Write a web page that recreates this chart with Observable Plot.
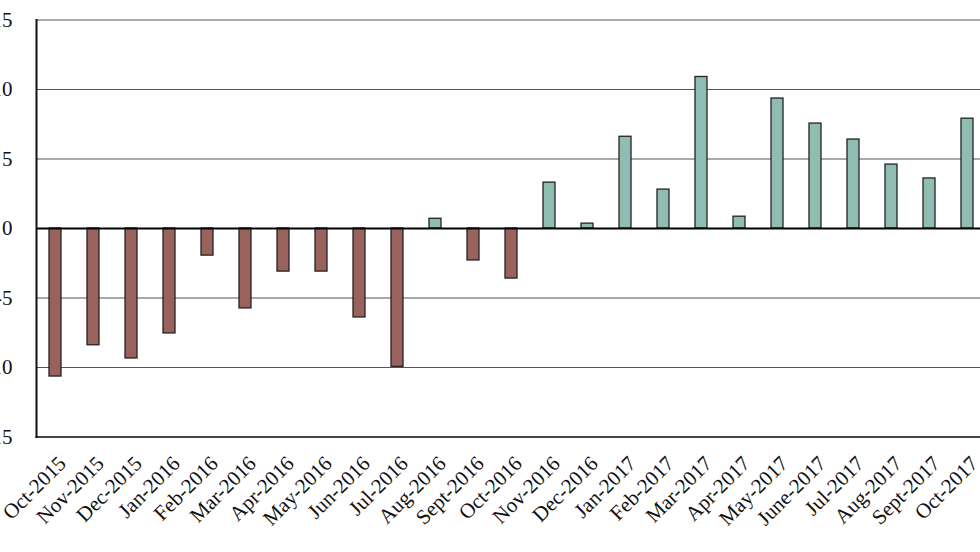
<!DOCTYPE html>
<html>
<head>
<meta charset="utf-8">
<script src="https://cdn.jsdelivr.net/npm/d3@7"></script>
<script src="https://cdn.jsdelivr.net/npm/@observablehq/plot@0.6"></script>
<style>
  html, body { margin: 0; padding: 0; background: #fff; overflow: hidden; width: 980px; height: 552px; }
  #chart { width: 980px; height: 552px; overflow: hidden; }
  #chart svg { display: block; margin-left: -20px; max-width: none !important; width: 1020px !important; height: 552px !important; }
</style>
</head>
<body>
<div id="chart"></div>
<script>
const months = ["Oct-2015","Nov-2015","Dec-2015","Jan-2016","Feb-2016","Mar-2016","Apr-2016","May-2016","Jun-2016","Jul-2016","Aug-2016","Sept-2016","Oct-2016","Nov-2016","Dec-2016","Jan-2017","Feb-2017","Mar-2017","Apr-2017","May-2017","June-2017","Jul-2017","Aug-2017","Sept-2017","Oct-2017"];
const values = [-10.65,-8.4,-9.35,-7.55,-1.95,-5.75,-3.1,-3.1,-6.4,-9.95,0.7,-2.3,-3.6,3.3,0.35,6.6,2.8,10.9,0.85,9.35,7.55,6.4,4.6,3.6,7.9];
const yTicks = [-15,-10,-5,0,5,10,15];
const negColor = "#9a625d";
const posColor = "#8fbdb1";

const data = months.map((m, i) => ({month: m, value: values[i]}));

const chart = Plot.plot({
  width: 1020,
  height: 552,
  marginLeft: 56,
  marginRight: 9.2,
  marginTop: 19.5,
  marginBottom: 115.5,
  style: {fontFamily: "'Liberation Serif', 'DejaVu Serif', serif", fontSize: "20px", background: "#fff", color: "#111"},
  x: {domain: months, range: [50.8, 1010.8], paddingInner: 0.69, paddingOuter: 0.345, axis: null},
  y: {domain: [-15, 15], axis: null},
  marks: [
    Plot.ruleY(yTicks.filter(d => d !== 0 && d !== -15), {stroke: "#555", strokeWidth: 1.2}),
    Plot.frame({anchor: "bottom", stroke: "#444", strokeWidth: 2}),
    Plot.barY(data, {x: "month", y: "value", fill: d => d.value < 0 ? negColor : posColor, stroke: "#222", strokeWidth: 1.3}),
    Plot.ruleY([0], {stroke: "#000", strokeWidth: 2}),
    Plot.frame({anchor: "left", stroke: "#111", strokeWidth: 2}),
    Plot.axisY({ticks: yTicks, tickSize: 0, tickPadding: 24, tickFormat: d => String(d), fontSize: 21, label: null, stroke: "none"}),
    Plot.text(months, {x: d => d, frameAnchor: "bottom", text: d => d, rotate: -45, textAnchor: "end", lineAnchor: "middle", dx: 7, dy: 23, fontSize: 21, fill: "#111"})
  ]
});
document.getElementById("chart").appendChild(chart);
</script>
</body>
</html>
